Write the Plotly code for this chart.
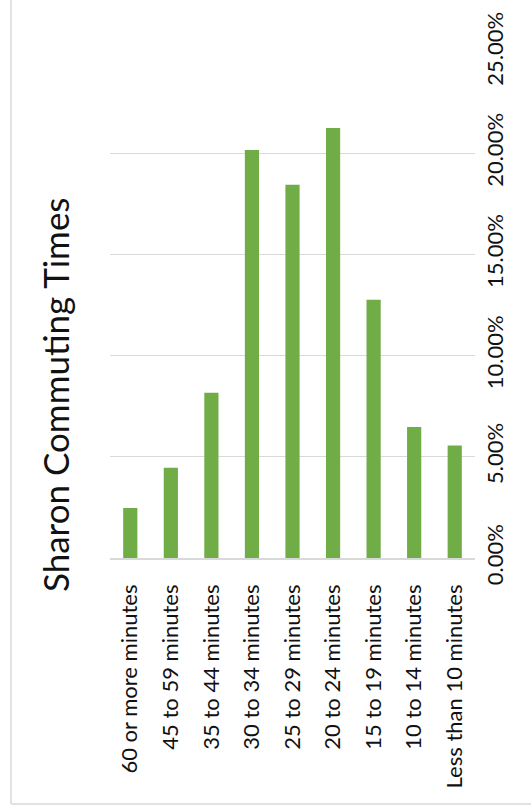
import plotly.graph_objects as go

categories = ["60 or more minutes", "45 to 59 minutes", "35 to 44 minutes",
              "30 to 34 minutes", "25 to 29 minutes", "20 to 24 minutes",
              "15 to 19 minutes", "10 to 14 minutes", "Less than 10 minutes"]
shares = [0.0247, 0.0446, 0.0817, 0.2016, 0.1844, 0.2124, 0.1276, 0.0647, 0.0556]
tick_vals = [0, 0.05, 0.10, 0.15, 0.20, 0.25]
tick_text = ["0.00%", "5.00%", "10.00%", "15.00%", "20.00%", "25.00%"]
title_text = "Sharon Commuting Times"

W, H = 531, 811
L, R, T, B = 110, 56, 52, 253
pw, ph = W - L - R, H - T - B

def px_x(px):
    return (px - L) / pw

def px_y(py):
    return (H - B - py) / ph

FONT = "Lato, Calibri, sans-serif"

fig = go.Figure(go.Bar(
    x=categories, y=shares,
    marker=dict(color="#70AD47", line=dict(width=0)),
    width=0.35,
))

fig.update_layout(
    width=W, height=H,
    margin=dict(l=L, r=R, t=T, b=B, pad=0),
    paper_bgcolor="white", plot_bgcolor="white",
    showlegend=False,
    font=dict(family=FONT, color="#111111"),
    xaxis=dict(
        tickangle=-90, tickfont=dict(size=22, family=FONT, color="#111111"),
        showline=True, linecolor="#D9D9D9", linewidth=1.5,
        showgrid=False, ticks="", ticklabelstandoff=16,
        fixedrange=True,
    ),
    yaxis=dict(
        side="right", range=[0, 0.25], tickvals=tick_vals, ticktext=tick_text,
        tickangle=-90, tickfont=dict(size=22, family=FONT, color="#111111"),
        showgrid=True, gridcolor="#D9D9D9", gridwidth=1.3,
        zeroline=False, showline=False, ticks="", ticklabelstandoff=5,
        fixedrange=True,
    ),
    annotations=[dict(
        text=title_text, textangle=-90, showarrow=False,
        xref="paper", yref="paper", x=px_x(55), y=px_y(395),
        xanchor="center", yanchor="middle",
        font=dict(size=35, family=FONT, color="#111111"),
    )],
    shapes=[
        dict(type="line", xref="paper", yref="paper",
             x0=px_x(11), x1=px_x(11), y0=px_y(0), y1=px_y(804),
             line=dict(color="#D9D9D9", width=1.5)),
        dict(type="line", xref="paper", yref="paper",
             x0=px_x(11), x1=px_x(531), y0=px_y(804), y1=px_y(804),
             line=dict(color="#D9D9D9", width=1.5)),
    ],
)

fig.write_html("out.html", config={"displayModeBar": False})
